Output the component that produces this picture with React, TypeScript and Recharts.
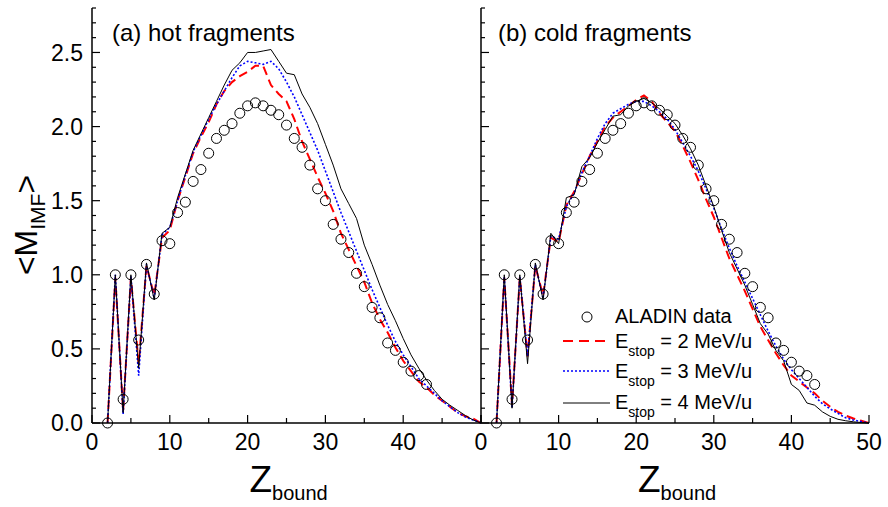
import React from 'react';
import { ComposedChart, Line, Scatter, XAxis, YAxis, Legend } from 'recharts';

// Z_bound grid of the model curves and of the ALADIN points
const zModel = [2, 3, 4, 5, 6, 7, 8, 9, 10, 11, 12, 13, 14, 15, 16, 17, 18, 19, 20, 21, 22, 23, 24, 25, 26, 27, 28, 29, 30, 31, 32, 33, 34, 35, 36, 37, 38, 39, 40, 41, 42, 43, 44, 45, 46, 47, 48, 49, 50];
const zData = [2, 3, 4, 5, 6, 7, 8, 9, 10, 11, 12, 13, 14, 15, 16, 17, 18, 19, 20, 21, 22, 23, 24, 25, 26, 27, 28, 29, 30, 31, 32, 33, 34, 35, 36, 37, 38, 39, 40, 41, 42, 43];

const aladin = [0, 1.0, 0.16, 1.0, 0.56, 1.07, 0.87, 1.23, 1.21, 1.42, 1.49, 1.63, 1.71, 1.82, 1.92, 1.975, 2.02, 2.09, 2.14, 2.16, 2.14, 2.11, 2.08, 2.01, 1.92, 1.86, 1.74, 1.58, 1.5, 1.34, 1.24, 1.15, 1.01, 0.92, 0.78, 0.71, 0.54, 0.49, 0.41, 0.35, 0.32, 0.26];

// (a) hot fragments
const hotE2 = [0, 0.98, 0.08, 0.98, 0.4, 1.06, 0.86, 1.25, 1.3, 1.5, 1.66, 1.82, 1.93, 2.03, 2.15, 2.24, 2.3, 2.34, 2.37, 2.41, 2.41, 2.28, 2.22, 2.17, 2.05, 1.9, 1.78, 1.66, 1.55, 1.43, 1.28, 1.17, 1.06, 0.95, 0.81, 0.7, 0.61, 0.51, 0.42, 0.35, 0.28, 0.24, 0.19, 0.15, 0.11, 0.07, 0.045, 0.03, 0];
const hotE3 = [0, 1.0, 0.06, 0.99, 0.32, 1.07, 0.84, 1.27, 1.32, 1.5, 1.67, 1.83, 1.94, 2.05, 2.15, 2.24, 2.33, 2.41, 2.44, 2.43, 2.42, 2.44, 2.39, 2.3, 2.2, 2.08, 1.96, 1.84, 1.7, 1.56, 1.42, 1.29, 1.16, 1.03, 0.9, 0.78, 0.66, 0.55, 0.46, 0.38, 0.3, 0.25, 0.2, 0.15, 0.11, 0.07, 0.04, 0.02, 0];
const hotE4 = [0, 1.0, 0.07, 1.0, 0.37, 1.08, 0.83, 1.28, 1.32, 1.52, 1.68, 1.84, 1.95, 2.06, 2.17, 2.28, 2.38, 2.43, 2.5, 2.5, 2.51, 2.52, 2.44, 2.36, 2.35, 2.22, 2.13, 2.02, 1.88, 1.74, 1.58, 1.48, 1.38, 1.2, 1.07, 0.93, 0.8, 0.69, 0.57, 0.46, 0.37, 0.29, 0.22, 0.16, 0.12, 0.085, 0.05, 0.02, 0];

// (b) cold fragments
const coldE2 = [0, 0.98, 0.12, 0.98, 0.45, 1.06, 0.86, 1.25, 1.22, 1.47, 1.56, 1.68, 1.8, 1.9, 2.0, 2.06, 2.1, 2.14, 2.18, 2.21, 2.17, 2.09, 2.03, 1.97, 1.87, 1.76, 1.64, 1.51, 1.39, 1.25, 1.11, 1.0, 0.89, 0.77, 0.65, 0.56, 0.47, 0.39, 0.32, 0.28, 0.24, 0.2, 0.15, 0.11, 0.075, 0.05, 0.03, 0.015, 0];
const coldE3 = [0, 0.99, 0.1, 0.99, 0.45, 1.07, 0.84, 1.26, 1.24, 1.46, 1.55, 1.69, 1.8, 1.92, 2.02, 2.09, 2.12, 2.15, 2.17, 2.17, 2.14, 2.1, 2.05, 1.98, 1.89, 1.8, 1.7, 1.58, 1.45, 1.31, 1.18, 1.06, 0.95, 0.84, 0.73, 0.62, 0.52, 0.43, 0.36, 0.3, 0.24, 0.18, 0.13, 0.095, 0.065, 0.035, 0.02, 0.01, 0];
const coldE4 = [0, 1.0, 0.1, 1.0, 0.4, 1.08, 0.83, 1.28, 1.21, 1.52, 1.54, 1.73, 1.79, 1.89, 1.98, 2.07, 2.08, 2.14, 2.17, 2.19, 2.16, 2.12, 2.07, 2.02, 1.94, 1.85, 1.74, 1.6, 1.46, 1.3, 1.15, 1.04, 0.93, 0.8, 0.67, 0.6, 0.49, 0.42, 0.26, 0.22, 0.135, 0.12, 0.075, 0.045, 0.025, 0.015, 0.008, 0.003, 0];

const xTicks = [0, 5, 10, 15, 20, 25, 30, 35, 40, 45, 50];
const yTicks = Array.from({ length: 29 }, (_, i) => i / 10);

const FONT = '"Liberation Sans", Arial, Helvetica, sans-serif';
const W = 888;
const H = 507;

const hotRows = zModel.map((z, i) => ({ z, e2: hotE2[i], e3: hotE3[i], e4: hotE4[i] }));
const coldRows = zModel.map((z, i) => ({ z, e2: coldE2[i], e3: coldE3[i], e4: coldE4[i] }));
const aladinRows = zData.map((z, i) => ({ z, m: aladin[i] }));

const isMajorY = (v: number) => Math.abs(v * 2 - Math.round(v * 2)) < 1e-6;

const YTick = ({ x, y, payload, side, labels }: any) => {
  const major = isMajorY(payload.value);
  const len = major ? 8 : 4;
  const dir = side === 'left' ? 1 : -1;
  return (
    <g>
      <line x1={x} x2={x + dir * len} y1={y} y2={y} stroke="#000" strokeWidth={1.2} />
      {labels && major && (
        <text x={x - 9} y={y} dy="0.36em" textAnchor="end" fontSize={23} fill="#000">
          {payload.value.toFixed(1)}
        </text>
      )}
    </g>
  );
};

const XTick = ({ x, y, payload, side, hidden }: any) => {
  const v = payload.value;
  const major = v % 10 === 0;
  const len = major ? 8 : 5;
  const dir = side === 'bottom' ? -1 : 1;
  const show = side === 'bottom' && major && !(hidden || []).includes(v);
  return (
    <g>
      <line x1={x} x2={x} y1={y} y2={y + dir * len} stroke="#000" strokeWidth={1.2} />
      {show && (
        <text x={x} y={y + 27} textAnchor="middle" fontSize={23} fill="#000">
          {v}
        </text>
      )}
    </g>
  );
};

const Ring = (props: any) => {
  if (props.cx == null || props.cy == null) return null;
  return <circle cx={props.cx} cy={props.cy} r={5} fill="none" stroke="#000" strokeWidth={1} />;
};

const zLabel = (props: any) => {
  const vb = props.viewBox || {};
  const cx = vb.x + vb.width / 2;
  return (
    <text x={cx - 37} y={492} fill="#000">
      <tspan fontSize={37}>Z</tspan>
      <tspan fontSize={20} dy={8}>bound</tspan>
    </text>
  );
};

const LegendBox = () => (
  <svg width={260} height={128} style={{ fontFamily: FONT, display: 'block', overflow: 'visible' }}>
    <circle cx={32} cy={17} r={5} fill="none" stroke="#000" strokeWidth={1} />
    <text x={60} y={23} fontSize={20} fill="#000">ALADIN data</text>
    <line x1={8} x2={54} y1={41} y2={41} stroke="#ff0000" strokeWidth={2} strokeDasharray="10 6" />
    <text x={60} y={48} fontSize={20} fill="#000">
      E<tspan fontSize={14} dy={8}>stop</tspan>
      <tspan dy={-8}> = 2 MeV/u</tspan>
    </text>
    <line x1={8} x2={55} y1={71} y2={71} stroke="#0000ff" strokeWidth={1.6} strokeDasharray="2 2" />
    <text x={60} y={78} fontSize={20} fill="#000">
      E<tspan fontSize={14} dy={8}>stop</tspan>
      <tspan dy={-8}> = 3 MeV/u</tspan>
    </text>
    <line x1={8} x2={55} y1={103} y2={103} stroke="#000" strokeWidth={1} />
    <text x={60} y={109} fontSize={20} fill="#000">
      E<tspan fontSize={14} dy={8}>stop</tspan>
      <tspan dy={-8}> = 4 MeV/u</tspan>
    </text>
  </svg>
);

const axisLine = { stroke: '#000', strokeWidth: 1.5 };

type PanelProps = {
  rows: any[];
  width: number;
  margin: { top: number; right: number; bottom: number; left: number };
  leftAxisWidth: number;
  showYLabels: boolean;
  hiddenX: number[];
  title: string;
  titleX: number;
  withLegend?: boolean;
  withYTitle?: boolean;
};

const Panel = ({ rows, width, margin, leftAxisWidth, showYLabels, hiddenX, title, titleX, withLegend, withYTitle }: PanelProps) => (
  <ComposedChart width={width} height={H} data={rows} margin={margin}>
    <XAxis
      dataKey="z"
      type="number"
      domain={[0, 50]}
      ticks={xTicks}
      interval={0}
      height={30}
      tickSize={0}
      tickMargin={0}
      axisLine={axisLine}
      tick={(p: any) => <XTick {...p} side="bottom" hidden={hiddenX} />}
      label={{ content: zLabel }}
    />
    <XAxis
      xAxisId="top"
      orientation="top"
      dataKey="z"
      type="number"
      domain={[0, 50]}
      ticks={xTicks}
      interval={0}
      height={0}
      tickSize={0}
      tickMargin={0}
      axisLine={axisLine}
      tick={(p: any) => <XTick {...p} side="top" />}
    />
    <YAxis
      type="number"
      domain={[0, 2.8]}
      ticks={yTicks}
      interval={0}
      width={leftAxisWidth}
      tickSize={0}
      tickMargin={0}
      axisLine={axisLine}
      tick={(p: any) => <YTick {...p} side="left" labels={showYLabels} />}
    />
    <YAxis
      yAxisId="r"
      orientation="right"
      type="number"
      domain={[0, 2.8]}
      ticks={yTicks}
      interval={0}
      width={0}
      tickSize={0}
      tickMargin={0}
      axisLine={axisLine}
      tick={(p: any) => <YTick {...p} side="right" labels={false} />}
    />
    <Scatter data={aladinRows} dataKey="m" shape={Ring} isAnimationActive={false} />
    <Line dataKey="e2" stroke="#ff0000" strokeWidth={2} strokeDasharray="9 5" dot={false} isAnimationActive={false} />
    <Line dataKey="e3" stroke="#0000ff" strokeWidth={1.6} strokeDasharray="2 2" dot={false} isAnimationActive={false} />
    <Line dataKey="e4" stroke="#000000" strokeWidth={1} dot={false} isAnimationActive={false} />
    {withLegend && (
      <Legend
        layout="vertical"
        align="center"
        verticalAlign="middle"
        content={() => <LegendBox />}
        wrapperStyle={{ position: 'absolute', left: 155, top: 300, width: 260, height: 128 }}
      />
    )}
    <text x={titleX} y={41} fontSize={24} fill="#000">{title}</text>
    {withYTitle && (
      <text transform="rotate(-90)" x={-225} y={37} textAnchor="middle" fill="#000">
        <tspan fontSize={32}>{'<M'}</tspan>
        <tspan fontSize={21} dy={8}>IMF</tspan>
        <tspan fontSize={32} dy={-8}>{'>'}</tspan>
      </text>
    )}
  </ComposedChart>
);

export default function App() {
  return (
    <div style={{ position: 'absolute', left: 0, top: 0, width: W, height: H, background: '#fff', fontFamily: FONT }}>
      <div style={{ position: 'absolute', left: 0, top: 0 }}>
        <Panel
          rows={hotRows}
          width={500}
          margin={{ top: 8, right: 19, bottom: 54, left: 0 }}
          leftAxisWidth={92}
          showYLabels
          hiddenX={[50]}
          title="(a) hot fragments"
          titleX={112}
          withYTitle
        />
      </div>
      <div style={{ position: 'absolute', left: 400, top: 0 }}>
        <Panel
          rows={coldRows}
          width={488}
          margin={{ top: 8, right: 19, bottom: 54, left: 0 }}
          leftAxisWidth={81}
          showYLabels={false}
          hiddenX={[]}
          title="(b) cold fragments"
          titleX={98}
          withLegend
        />
      </div>
    </div>
  );
}
